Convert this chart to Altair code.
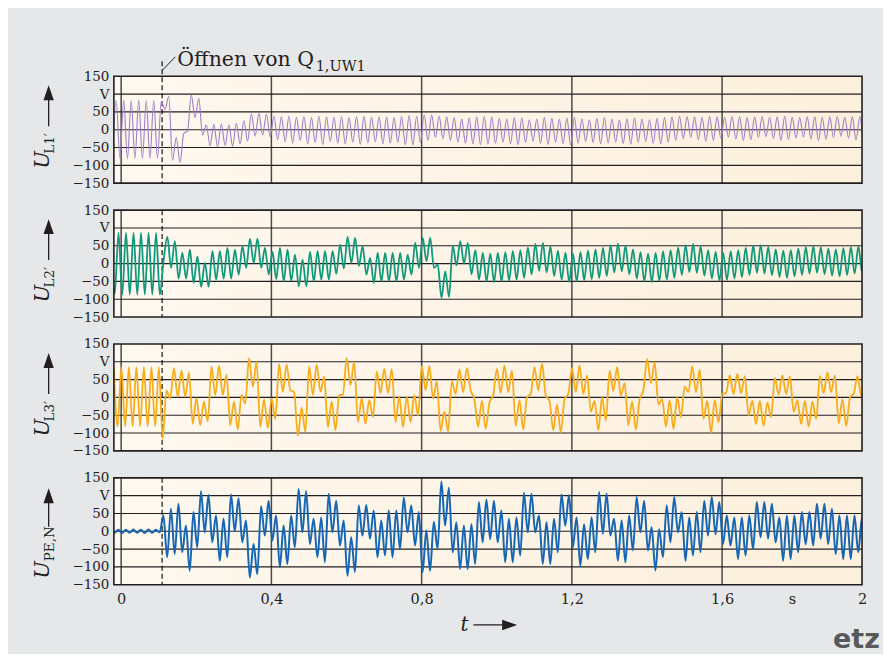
import altair as alt
import pandas as pd

# ---------------- data ----------------
# successive half-cycle extrema (V), one every 10 ms, starting at t0
T0_L1 = -0.0233
U_L1 = [-78,
        82, -80, 83, -81, 82, -80, 83, -81, 82, -80, 82, -80,
        80, 57, 94, -86, -22, -92, -10, -4, 97, 34, 88, -15,
        14, -45, 15, -48, 16, -44, 14, -46, 18, -40, 25, -32, 45, -18, 46, -15, 44, -20, 38, -28,
        36, -34, 38, -38, 35, -30, 37, -40, 34, -36, 38, -42, 36, -33, 35, -38, 37, -40, 34, -35,
        36, -41, 38, -37, 35, -34, 37, -40, 36, -38, 34, -36, 37,
        -42, 40, -43, 38, -36, 42, -30, 41, -22, 38, -25, 36, -30, 34, -35, 30, -38, 33, -40, 36,
        -42, 38, -40, 36, -38,
        32, -35, 30, -40, 34, -42, 33, -36, 28, -32, 30, -38, 34, -41, 32, -35, 29, -39, 33, -42,
        35, -38, 31, -33, 28, -36, 32, -40, 34, -37, 30, -34, 27, -39, 31, -41, 33, -36, 30, -33,
        28, -38, 32, -40, 34, -35, 36, -30, 38, -25,
        37, -22, 36, -28, 35, -32, 38, -30, 36, -24, 35, -20, 37, -26, 36, -30, 34, -28, 36, -22,
        37, -19, 35, -25, 36, -30, 38, -28, 35, -23, 34, -20, 36, -26, 37, -31, 35, -27, 36, -22,
        37, -18, 35, -24, 36, -29, 37, -26, 35, -22]

T0_L2 = -0.0271
U_L2 = [85,
        -85, 86, -87, 86, -87, 86, -87, 86, -87, 86, -87, 86, -87,
        8,
        75, -12, 63, -42, 30, -42, 39, -54, 20, -65,
        2, -65, 35, -45, 35, -42, 44, -42, 39, -31,
        49, -12, 70, 2, 70, -12, 44, -31, 33, -43,
        44, -50, 39, -48, 25, -64, 11, -64, 33, -50,
        35, -45, 35, -45, 35, -29, 53, -14, 75, 2,
        72, -7, 49, -31, 16, -54, 30, -50, 30, -50,
        30, -50, 30, -45, 25, -31, 58, -12, 72, 7,
        72, -12, -3, -96, -22, -94,
        50, -5, 63, 0, 58, -30, 38, -45, 30, -50,
        28, -52, 30, -50, 32, -48, 35, -45, 38, -40,
        45, -30, 55, -20, 58, -25, 48, -35, 36, -45,
        30, -52, 28, -50, 32, -46, 36, -44, 40, -40,
        44, -35, 52, -25, 56, -22, 50, -30, 40, -42,
        32, -50, 28, -52, 30, -48, 34, -45, 38, -40,
        45, -32, 52, -24, 55, -26, 48, -34, 38, -42,
        33, -48, 30, -46, 34, -42, 38, -38, 44, -32,
        50, -26, 52, -28, 47, -33, 40, -38, 36, -40,
        38, -36, 42, -32, 46, -28, 48, -26, 46, -30,
        42, -34, 40, -36, 43, -32, 47, -28, 48, -26,
        45]

T0_L3 = -0.0195
U_L3 = [85, -81, 85, -81, 85, -81, 85, -81, 85, -81, 85, -81, 85,
        -116, 19, -3, 82, 2, 75, 2, 70, -74, -2,
        -78, -12, -67, 87, 7, 89, 7, 63, -78, -12,
        -90, 7, -17, 110, 30, 100, -83, -5, -86, -3,
        -61, 94, 16, 92, 20, 15, -107, -29, -97, 88,
        7, 92, 16, 58, -83, -12, -92, 7, 7, 110,
        35, 100, -69, -3, -74, -8, -55, 73, 12, 80,
        12, 80, -69, 2, -83, 2, -69, 7, -50, 88,
        20, 88, -3, 45, -94, -40, -95,
        45, 10, 78, 15, 82, 20, -5, -82, -10, -88,
        -15, 5, 80, 12, 90, 15, 75, -80, -8, -90,
        0, 10, 85, 20, 95, 5, -10, -92, -20, -98,
        -5, 10, 82, 15, 90, 10, 62, -40, -10, -92,
        0, -65, 75, 18, 85, 5, 40, -78, -12, -90,
        -5, 20, 108, 40, 98, -20, -5, -82, -8, -88,
        0, -55, 30, 15, 88, 15, 78, -60, -10, -98,
        -8, -70, 10, 12, 62, 10, 66, 12, 60, -50,
        -10, -75, -10, -80, -15, -55, 55, 8, 62, 10,
        58, -40, -8, -75, -10, -82, -12, -60, 60, 12,
        70, 15, 62, -72, -5, -80, 0, 10, 60, 5,
        40]

T0_PE = -0.0275
U_PE = [3, -4, 4, -5, 4, -4, 5, -4, 4, -5, 5, -4, 4, -3,
        44, -73, 63, -64, 77, -59, 16, -111, 54, -45,
        112, -3, 102, -31, 44, -83, 35, -73, 103, 0,
        93, -31, 30, -130, -36, -120, 70, -12, 86, -26,
        44, -101, 16, -92, 44, -45, 119, -3, 112, -36,
        35, -73, 39, -87, 105, -3, 86, -40, 30, -125,
        -17, -114, 72, -12, 74, -21, 58, -73, 30, -68,
        58, -73, 58, -50, 95, -3, 72, -40, 54, -115,
        2, -111, 27, -50, 140, 16, 122,
        -59, 25, -106, 16, -106, 20, -92, 82, -31, 89,
        -22, 86, -31, 58, -87, 35, -87, 39, -68, 108,
        -3, 105, -3, 44, -92, 25, -92, 35, -59, 103,
        16, 102, -45, 39, -97, 20, -78, 39, -59, 110,
        -7, 105, -12, 35, -83, 30, -87, 44, -54, 96,
        -3, 86, -54, 11, -110, 6, -73, 72, -31, 96,
        -3, 54, -83, 39, -68, 54, -59, 86, -12, 96,
        -8, 82, -36, 44, -40, 39, -78, 39, -68, 44,
        -50, 82, -17, 82, -21, 77, -31, 39, -83, 44,
        -78, 44, -59, 54, -36, 54, -40, 77, -21, 77,
        -36, 63, -64, 44, -78, 44, -78, 44, -59, 39,
        0]

STEP = 0.01
T_OPEN = 0.109
X_DOMAIN = [-0.0194, 1.9726]
Y_TICKS = [-150, -100, -50, 0, 50, 100, 150]
Y_GRID = [-100, -50, 0, 50, 100]
T_GRID = [0.0, 0.4, 0.8, 1.2, 1.6]
X_TICKS = [0.0, 0.4, 0.8, 1.2, 1.6, 1.786, 1.9726]

W, H = 749, 107
INK = "#231f20"
SERIF = "DejaVu Serif"

one = pd.DataFrame({"k": [0]})
xs = alt.Scale(domain=X_DOMAIN, nice=False, zero=False)
ys = alt.Scale(domain=[-150, 150], nice=False, zero=False)

Y_AXIS = alt.Axis(values=Y_TICKS, grid=False, ticks=False, domain=False,
                  labelExpr="datum.value == 100 ? 'V' : (datum.value < 0 ? '\u2212' + abs(datum.value) : '' + datum.value)",
                  labelFont=SERIF, labelFontSize=13.5, labelColor=INK, labelPadding=5,
                  labelFlush=False, labelOverlap=False, title=None)
X_AXIS = alt.Axis(values=X_TICKS, grid=False, ticks=False, domain=False,
                  labelExpr="datum.value > 1.7 && datum.value < 1.9 ? 's' : (datum.value > 1.9 ? '2' : replace(format(datum.value, '.1~f'), '.', ','))",
                  labelFont=SERIF, labelFontSize=14.5, labelColor=INK, labelPadding=8,
                  labelFlush=False, labelOverlap=False, title=None)


def series(t0, vals):
    return pd.DataFrame({"t": [t0 + STEP * i for i in range(len(vals))], "u": vals})


def val(v):
    return alt.value(v)


def panel(vals, t0, color, sw, sub, first=False, last=False):
    xa = X_AXIS if last else None

    def X():
        return alt.X("t:Q", scale=xs, axis=xa)

    def Y():
        return alt.Y("u:Q", scale=ys, axis=Y_AXIS)

    layers = []
    grad = alt.LinearGradient(
        gradient="linear", x1=0, x2=1, y1=0, y2=0,
        stops=[alt.GradientStop(offset=0, color="#fef8ef"),
               alt.GradientStop(offset=1, color="#fdf0dd")])
    layers.append(alt.Chart(one).mark_rect(fill=grad).encode(
        x=val(0), x2=val(W), y=val(0), y2=val(H)))
    layers.append(alt.Chart(pd.DataFrame({"t": T_GRID})).mark_rule(
        color="#4a4a4a", strokeWidth=1.5).encode(x=X()))
    layers.append(alt.Chart(pd.DataFrame({"u": Y_GRID})).mark_rule(
        color=INK, strokeWidth=1.1).encode(y=Y()))

    dash = alt.Chart(pd.DataFrame({"t": [T_OPEN]})).mark_rule(
        color="#000000", strokeWidth=1.1, strokeDash=[5, 3])
    if first:
        layers.append(dash.encode(x=X(), y=val(-15), y2=val(H)))
    else:
        layers.append(dash.encode(x=X()))

    layers.append(alt.Chart(series(t0, vals)).mark_line(
        color=color, strokeWidth=sw, interpolate="monotone", clip=True).encode(x=X(), y=Y()))

    layers.append(alt.Chart(one).mark_rect(fillOpacity=0, stroke=INK, strokeWidth=1.6).encode(
        x=val(0), x2=val(W), y=val(0), y2=val(H)))

    # rotated axis title with arrow
    if last:
        u0, s0, l_end, head = 101, 83.5, 49, 18
    else:
        u0, s0, l_end, head = 92.5, 77.5, 50, 16.5
    layers.append(alt.Chart(one).mark_text(
        text="U", font=SERIF, fontStyle="italic", fontSize=21, angle=270,
        align="left", baseline="alphabetic", color=INK).encode(x=val(-64.5), y=val(u0)))
    layers.append(alt.Chart(one).mark_text(
        text=sub, font=SERIF, fontSize=13.5, angle=270,
        align="left", baseline="alphabetic", color=INK).encode(x=val(-59.5), y=val(s0)))
    layers.append(alt.Chart(one).mark_rule(color=INK, strokeWidth=1.3).encode(
        x=val(-65.3), x2=val(-65.3), y=val(l_end), y2=val(head)))
    layers.append(alt.Chart(one).mark_point(
        shape="M0,-1L0.69,1L-0.69,1Z", size=225, filled=True, color=INK, opacity=1,
        strokeWidth=0).encode(x=val(-65.3), y=val(head)))

    if first:
        layers.append(alt.Chart(one).mark_rule(color=INK, strokeWidth=1).encode(
            x=val(48.5), x2=val(61.5), y=val(-6), y2=val(-19.5)))
        layers.append(alt.Chart(one).mark_text(
            text="Öffnen von Q", font=SERIF, fontSize=20.5, align="left",
            baseline="alphabetic", color=INK).encode(x=val(63.5), y=val(-10.3)))
        layers.append(alt.Chart(one).mark_text(
            text="1,UW1", font=SERIF, fontSize=14.5, align="left",
            baseline="alphabetic", color=INK).encode(x=val(202), y=val(-5)))
        layers.append(alt.Chart(one).mark_rule(strokeOpacity=0).encode(
            x=val(-105), x2=val(769), y=val(-67.3), y2=val(-67.3)))
    if last:
        layers.append(alt.Chart(one).mark_text(
            text="t", font=SERIF, fontStyle="italic", fontSize=20, align="left",
            baseline="alphabetic", color=INK).encode(x=val(347), y=val(153.5)))
        layers.append(alt.Chart(one).mark_rule(color=INK, strokeWidth=1.3).encode(
            x=val(360), x2=val(392), y=val(147.3), y2=val(147.3)))
        layers.append(alt.Chart(one).mark_point(
            shape="M1,0L-1,-0.7L-1,0.7Z", size=225, filled=True, color=INK, opacity=1,
            strokeWidth=0).encode(x=val(396.2), y=val(147.3)))
        layers.append(alt.Chart(one).mark_text(
            text="etz", font="DejaVu Sans", fontWeight="bold", fontSize=27, align="left",
            baseline="alphabetic", color="#58595b").encode(x=val(720), y=val(170)))
        layers.append(alt.Chart(one).mark_rule(strokeOpacity=0).encode(
            x=val(-105), x2=val(769), y=val(175), y2=val(175)))

    return alt.layer(*layers).properties(width=W, height=H)


p1 = panel(U_L1, T0_L1, "#a07cc8", 1.1, "L1\u2032", first=True)
p2 = panel(U_L2, T0_L2, "#0f987b", 1.8, "L2\u2032")
p3 = panel(U_L3, T0_L3, "#f8ac1c", 1.8, "L3\u2032")
p4 = panel(U_PE, T0_PE, "#1666b3", 2.0, "PE,N", last=True)

chart = alt.vconcat(p1, p2, p3, p4, spacing=27, bounds="flush").properties(
    padding=0, background="#e6e7e9"
).configure_view(stroke="transparent")

chart.save("out.html", embed_options={"renderer": "svg", "actions": False})
